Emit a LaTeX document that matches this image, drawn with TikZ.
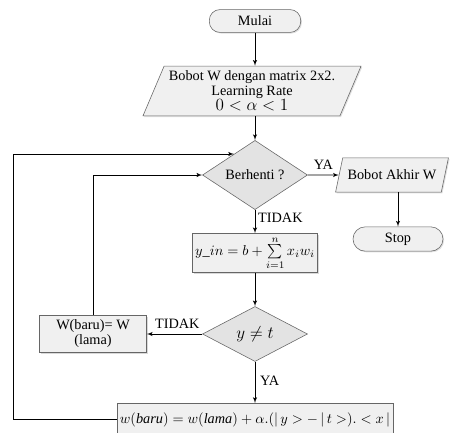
\documentclass[tikz,border=0pt]{standalone}
\usepackage{fontspec}
\setmainfont{Liberation Serif}
\usetikzlibrary{shapes,arrows,shadows}
\tikzstyle{terminal} = [rectangle, draw=black!60, fill=gray!12, rounded corners=7.5pt,
    minimum width=64pt, minimum height=16pt, text centered,
    drop shadow={opacity=0.25, shadow xshift=0.8pt, shadow yshift=-0.8pt}]
\tikzstyle{io} = [trapezium, trapezium left angle=67, trapezium right angle=113,
    trapezium stretches body, draw=black!60, fill=gray!12, text centered,
    drop shadow={opacity=0.25, shadow xshift=0.8pt, shadow yshift=-0.8pt}]
\tikzstyle{decision} = [diamond, draw=black!60, fill=gray!22, inner sep=0pt,
    minimum width=73.5pt, minimum height=38.5pt, text centered]
\tikzstyle{block} = [rectangle, draw=black!60, fill=gray!12, text centered,
    drop shadow={opacity=0.3, shadow xshift=1pt, shadow yshift=-1pt}]
\tikzstyle{line} = [draw, -latex']

\begin{document}
\begin{tikzpicture}[x=0.7pt, y=-0.7pt, font=\fontsize{10}{10.5}\selectfont]
        \useasboundingbox (0,0) rectangle (450,432);
        % Place nodes
        \node (mulai) [terminal] at (255,21) {Mulai};
        \path (mulai)+(-3,70) node (init) [io, minimum width=133pt, minimum height=33pt, align=center]
            {Bobot W dengan matrix 2x2.\\Learning Rate\\{\large $0<\alpha<1$}};
        \path [line] (mulai) -- (mulai |- init.north);
        \path (mulai)+(0,154) node (berhenti) [decision] {Berhenti ?};
        \path [line] (init.south -| mulai) -- (berhenti);

        %YA
        \path (berhenti)+(137,0) node (akhir) [io, trapezium left angle=70, trapezium right angle=110,
            minimum width=79pt, minimum height=24pt] {Bobot Akhir W};
        \path [line] (berhenti) -- node [above] {YA} (akhir);
        \path (akhir)+(6,64) node (stop) [terminal, rounded corners=8.5pt, minimum width=63pt, minimum height=17pt] {Stop};
        \path [line] (akhir.south -| stop) -- (stop);

        %TIDAK
        \path (berhenti)+(0,78) node (yin) [block, minimum width=83pt, minimum height=26pt, inner sep=2pt]
            {$y\_in = b + \sum\limits_{i=1}^{n} x_i w_i$};
        \path [line] (berhenti) -- node [right, pos=0.35, inner sep=2pt] {TIDAK} (yin);
        \path (yin)+(0,81) node (cek) [decision] {\large $y \neq t$};
        \path [line] (yin) -- (cek);
        \path (cek)+(-162,0) node (wbaru) [block, minimum width=75pt, minimum height=24pt, align=center]
            {W(baru)= W\\(lama)};
        \path [line] (cek) -- node [above, pos=0.45] {TIDAK} (wbaru);
        \path [line] (wbaru) |- (berhenti);
        \path (cek)+(0,69) node (update) [block, minimum width=179pt, minimum height=23pt, inner xsep=2pt, anchor=north]
            {$w(\mathit{baru}) = w(\mathit{lama}) + \alpha.(|\,y> - \,|\,t>).<x\,|$};
        \path [line] (cek) -- node [right, pos=0.45] {YA} (update);

        %Loop
        \coordinate (back) at (13,0);
        \path [line] (update.west) -| (back |- berhenti.135) -- (berhenti.135);
    \end{tikzpicture}
\end{document}
